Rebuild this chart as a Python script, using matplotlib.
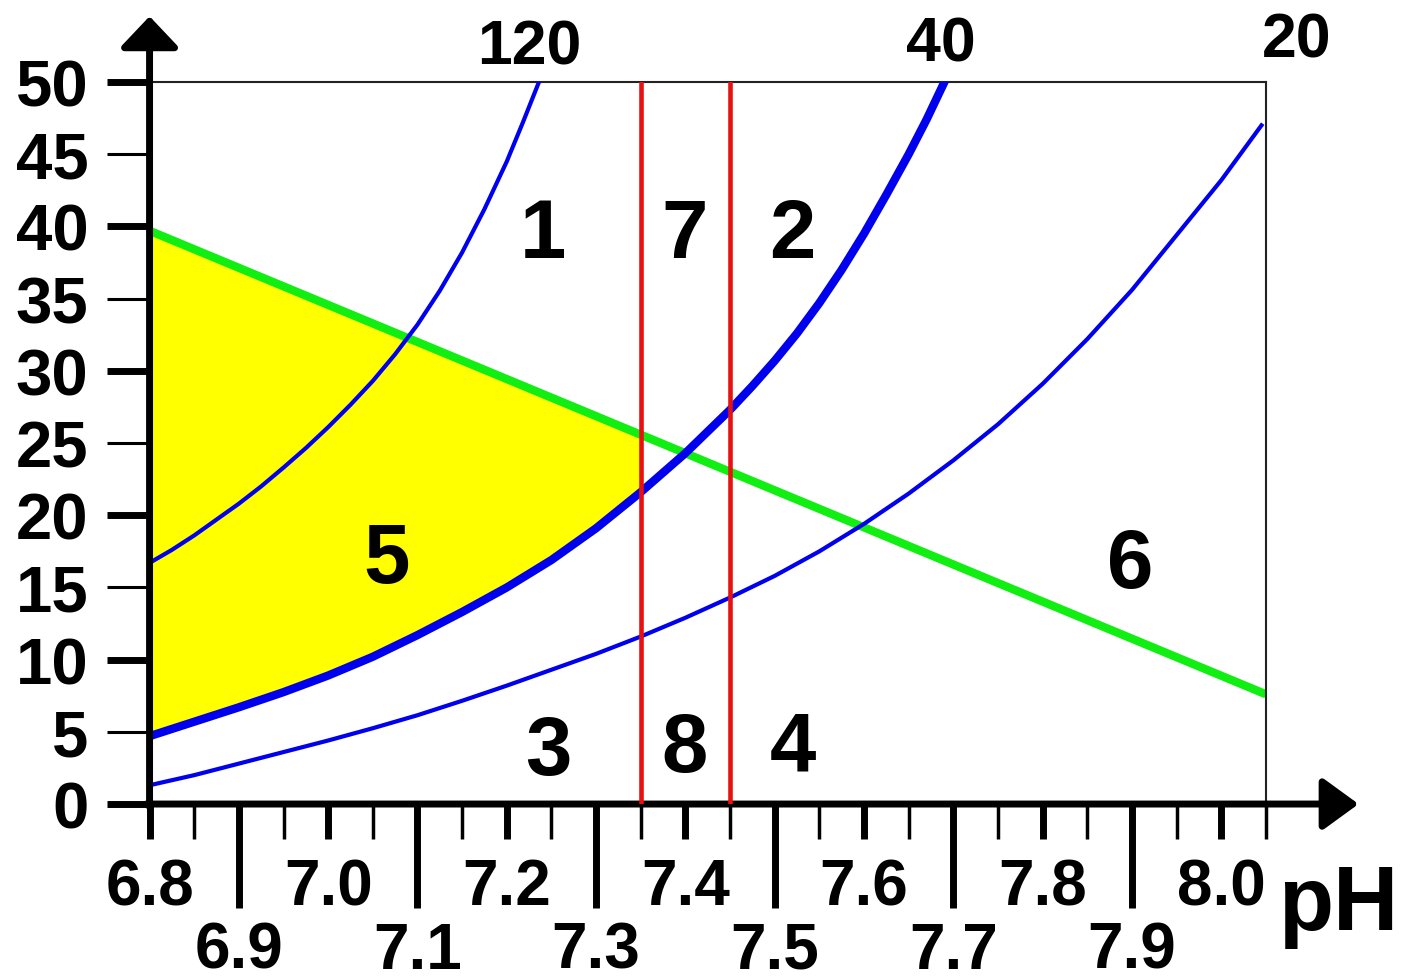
import numpy as np
import matplotlib.pyplot as plt
from matplotlib.ticker import FixedLocator

plt.rcParams['font.family'] = ['Liberation Sans', 'DejaVu Sans']
plt.rcParams['font.weight'] = 'bold'

# pCO2 isobars: pH vs HCO3-
ph_120 = [6.80, 6.825, 6.85, 6.875, 6.90, 6.925, 6.95, 6.975, 7.00, 7.025,
          7.05, 7.075, 7.10, 7.125, 7.15, 7.175, 7.20, 7.218, 7.236]
hco3_120 = [16.7, 17.6, 18.6, 19.7, 20.8, 22.0, 23.3, 24.65, 26.1, 27.65,
            29.3, 31.15, 33.2, 35.55, 38.2, 41.2, 44.5, 47.2, 50.0]

ph_40 = [6.80, 6.85, 6.90, 6.95, 7.00, 7.05, 7.10, 7.15, 7.20, 7.25,
         7.30, 7.35, 7.40, 7.45, 7.475, 7.50, 7.525, 7.55, 7.575, 7.60,
         7.625, 7.65, 7.67, 7.69]
hco3_40 = [4.7, 5.7, 6.7, 7.75, 8.9, 10.2, 11.7, 13.3, 15.0, 16.9,
           19.1, 21.6, 24.3, 27.3, 28.95, 30.7, 32.6, 34.7, 37.0, 39.5,
           42.2, 45.0, 47.4, 50.0]

ph_20 = [6.80, 6.85, 6.90, 6.95, 7.00, 7.05, 7.10, 7.15, 7.20, 7.25, 7.30, 7.35, 7.40,
         7.45, 7.50, 7.55, 7.60, 7.65, 7.70, 7.75, 7.80, 7.85, 7.90, 7.95, 8.00, 8.045]
hco3_20 = [1.3, 2.0, 2.8, 3.6, 4.4, 5.25, 6.15, 7.15, 8.2, 9.3, 10.4, 11.6, 12.9,
           14.3, 15.8, 17.5, 19.4, 21.5, 23.8, 26.3, 29.1, 32.2, 35.6, 39.4, 43.2, 47.0]

isobar_labels = ['120', '40', '20']

# buffer line (green)
ph_buffer = [6.80, 8.05]
hco3_buffer = [39.7, 7.6]

# normal pH range
ph_normal = [7.35, 7.45]

region_names = ['1', '7', '2', '5', '6', '3', '8', '4']
region_ph = [7.240, 7.399, 7.520, 7.066, 7.898, 7.246, 7.399, 7.520]
region_hco3 = [37.9, 37.9, 37.9, 15.4, 15.0, 2.1, 2.3, 2.3]

fig = plt.figure(figsize=(14.03, 9.79), dpi=100)
ax = fig.add_axes([0.1066, 0.1777, 0.7957, 0.7375])
ax.set_xlim(6.8, 8.05)
ax.set_ylim(0, 50)

# yellow zone: above pCO2 40, below buffer line, left of pH 7.35
ph40 = np.array(ph_40)
mask = ph40 <= ph_normal[0]
ax.fill_between(ph40[mask], np.array(hco3_40)[mask],
                np.interp(ph40[mask], ph_buffer, hco3_buffer),
                color='#ffff00', lw=0, zorder=1)

ax.plot(ph_buffer, hco3_buffer, color='#11ee11', lw=6, zorder=2, solid_capstyle='butt')
ax.plot(ph_120, hco3_120, color='#0000ee', lw=3, zorder=3)
ax.plot(ph_40, hco3_40, color='#0000ee', lw=6, zorder=3)
ax.plot(ph_20, hco3_20, color='#0000ee', lw=3, zorder=3)
for p in ph_normal:
    ax.axvline(p, color='#e81010', lw=3.3, zorder=4)

for name, x, y in zip(region_names, region_ph, region_hco3):
    ax.text(x, y, name, fontsize=60, ha='center', va='baseline', zorder=5)

# isobar labels above the frame
for name, x, y in zip(isobar_labels, [7.225, 7.686, 8.084], [51.3, 51.5, 51.8]):
    ax.text(x, y, name, fontsize=45, ha='center', va='baseline', clip_on=False)

# frame and axes arrows
for s in ['top', 'right']:
    ax.spines[s].set_linewidth(1.5)
    ax.spines[s].set_color('#222222')
ax.spines['left'].set_visible(False)
ax.spines['bottom'].set_visible(False)
ax.annotate('', xy=(0, 1.091), xytext=(0, -0.004), xycoords='axes fraction',
            arrowprops=dict(arrowstyle='-|>,head_length=0.95,head_width=0.9',
                            mutation_scale=20, lw=5, color='black',
                            shrinkA=0, shrinkB=0))
ax.annotate('', xy=(1.083, 0), xytext=(-0.003, 0), xycoords='axes fraction',
            arrowprops=dict(arrowstyle='-|>,head_length=1.1,head_width=0.8',
                            mutation_scale=20, lw=5, color='black',
                            shrinkA=0, shrinkB=0))

# y ticks: every 5, thick at tens
ax.yaxis.set_major_locator(FixedLocator(list(range(0, 51, 5))))
ax.tick_params(axis='y', which='major', length=31, width=5, labelsize=47, pad=13)
for val, tick in zip(range(0, 51, 5), ax.yaxis.get_major_ticks()):
    if val % 10:
        tick.tick1line.set_markeredgewidth(2.2)

# x ticks: tall at odd tenths, short thick at even tenths, thin at halves
odd_ticks = [6.9, 7.1, 7.3, 7.5, 7.7, 7.9]
even_ticks = [6.8, 7.0, 7.2, 7.4, 7.6, 7.8, 8.0]
half_ticks = [6.85, 6.95, 7.05, 7.15, 7.25, 7.35, 7.45, 7.55, 7.65, 7.75, 7.85, 7.95, 8.05]
ax.xaxis.set_major_locator(FixedLocator(odd_ticks))
ax.xaxis.set_minor_locator(FixedLocator(half_ticks))
ax.tick_params(axis='x', which='major', length=75, width=5, labelbottom=False)
ax.tick_params(axis='x', which='minor', length=25, width=2.5)
sec = ax.secondary_xaxis('bottom')
sec.set_xticks(even_ticks)
sec.tick_params(length=25, width=5, labelbottom=False)
sec.spines['bottom'].set_visible(False)

tr = ax.get_xaxis_transform()
for t in even_ticks:
    ax.text(t, -0.1385, f'{t:.1f}', transform=tr, fontsize=46, ha='center', va='baseline')
for t in odd_ticks:
    ax.text(t, -0.2265, f'{t:.1f}', transform=tr, fontsize=46, ha='center', va='baseline')

fig.text(0.954, 0.050, 'pH', fontsize=65, ha='center', va='baseline')

fig.savefig('out.png', dpi=100)
